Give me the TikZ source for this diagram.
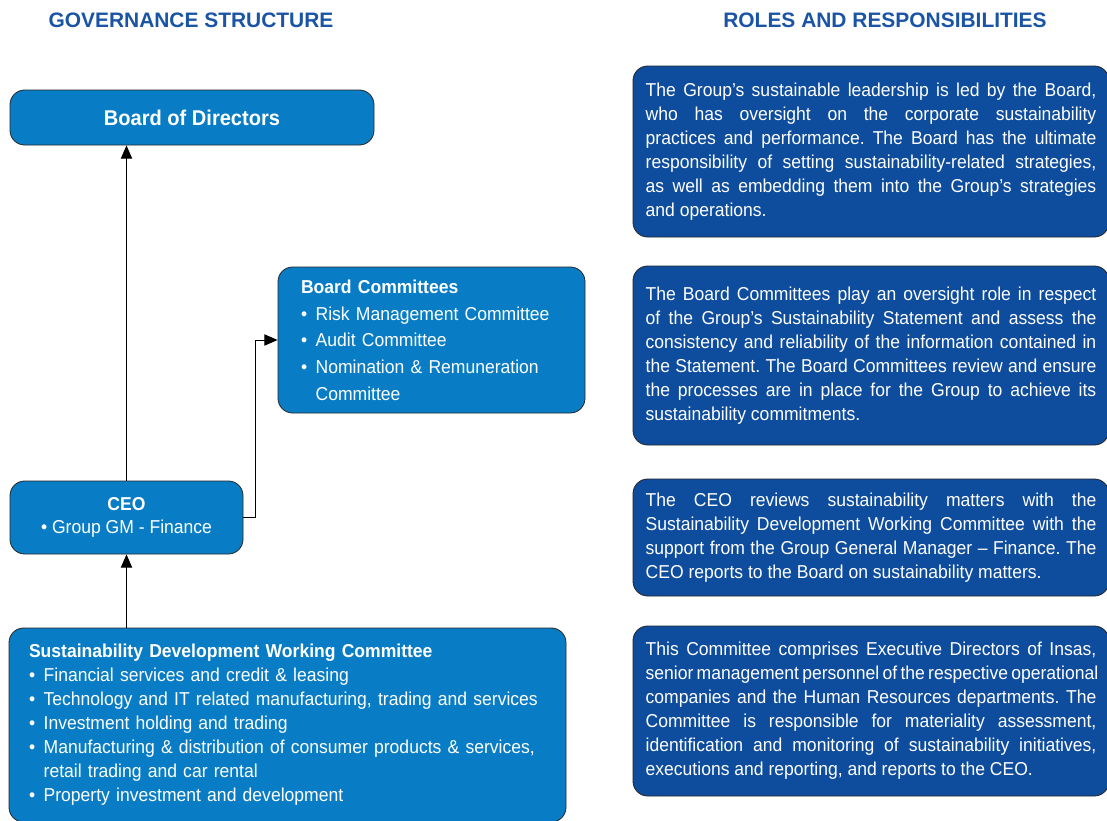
\documentclass[tikz,border=0pt]{standalone}
\usepackage{fontspec}
\setmainfont{Liberation Sans}[FakeStretch=0.94]
\newfontfamily\headfont{Liberation Sans}
\usetikzlibrary{arrows.meta}

\definecolor{orgblue}{RGB}{8,125,197}
\definecolor{roleblue}{RGB}{14,76,158}
\definecolor{headblue}{RGB}{26,84,164}

% bullet line with hanging indent
\newcommand{\bitem}[1]{\par\hangindent=11pt\hangafter=1\makebox[11pt][l]{\textbullet}#1}

\hbadness=10000
\hfuzz=20pt
\hyphenpenalty=10000
\frenchspacing
\tikzset{orgbox/.style={
    % The shape:
    rectangle, rounded corners=11pt,
    % The border:
    draw=black!85, line width=0.6pt,
    % The filling:
    fill=orgblue,
    % Font
    text=white, inner sep=0pt,
    font=\fontsize{14}{18}\selectfont
    },
    rolebox/.style={
    rectangle, rounded corners=11pt,
    draw=black!85, line width=0.6pt,
    fill=roleblue,
    text=white, inner sep=0pt,
    minimum width=357pt,
    text width=338pt, align=justify,
    font=\fontsize{14}{18}\selectfont
    },
    heading/.style={
    font=\headfont\fontsize{15.7}{18}\selectfont\bfseries,
    text=headblue
    },
    reports/.style={
    line width=0.75pt,
    -{Triangle[length=10pt,width=8.5pt]}
    },
}

\begin{document}
\begin{tikzpicture}[x=0.75pt,y=-0.75pt]
  \useasboundingbox (0,0) rectangle (1107,821);

  \node (govhead)  [heading] at (191,20)  {GOVERNANCE STRUCTURE};
  \node (rolehead) [heading] at (885,20)  {ROLES AND RESPONSIBILITIES};

  % left column: the structure
  \node (board) [orgbox,minimum width=273pt,minimum height=41.25pt,
         font=\fontsize{16}{18}\selectfont\bfseries] at (192,117.5) {Board of Directors};
  \node (committees) [orgbox,minimum width=230.25pt,minimum height=109.5pt,
         text width=195.75pt,align=left,
         font=\fontsize{14}{20}\selectfont] at (431.5,340)
    {\textbf{Board Committees}
     \bitem{Risk Management Committee}
     \bitem{Audit Committee}
     \bitem{Nomination \& Remuneration\newline Committee}\par};
  \node (ceo) [orgbox,minimum width=174.75pt,minimum height=54.75pt,align=center,
         font=\fontsize{14}{17.25}\selectfont] at (126.5,517.5)
    {\textbf{CEO}\\\textbullet\ Group GM - Finance};
  \node (sdwc) [orgbox,minimum width=417.75pt,minimum height=145.5pt,
         text width=387.75pt,align=left] at (287.5,725)
    {\textbf{Sustainability Development Working Committee}
     \bitem{Financial services and credit \& leasing}
     \bitem{Technology and IT related manufacturing, trading and services}
     \bitem{Investment holding and trading}
     \bitem{Manufacturing \& distribution of consumer products \& services,\newline retail trading and car rental}
     \bitem{Property investment and development}\par};

  \draw[reports] (ceo.south |- sdwc.north) -- (ceo.south);
  \draw[reports] (ceo.north) -- (ceo.north |- board.south);
  \draw[reports] (ceo.east) -- ++(12,0) |- (committees.west);

  % right column: the roles
  \node (roleboard) [rolebox,minimum height=128.25pt] at (871,151.5)
    {The Group’s sustainable leadership is led by the Board,\linebreak
     who has oversight on the corporate sustainability\linebreak
     practices and performance. The Board has the ultimate\linebreak
     responsibility of setting sustainability-related strategies,\linebreak
     as well as embedding them into the Group’s strategies\linebreak
     and operations.};
  \node (rolecommittees) [rolebox,minimum height=134.25pt] at (871,355.5)
    {The Board Committees play an oversight role in respect\linebreak
     of the Group’s Sustainability Statement and assess the\linebreak
     consistency and reliability of the information contained in\linebreak
     the Statement. The Board Committees review and ensure\linebreak
     the processes are in place for the Group to achieve its\linebreak
     sustainability commitments.};
  \node (roleceo) [rolebox,minimum height=87.75pt] at (871,537.5)
    {The CEO reviews sustainability matters with the\linebreak
     Sustainability Development Working Committee with the\linebreak
     support from the Group General Manager – Finance. The\linebreak
     CEO reports to the Board on sustainability matters.};
  \node (rolesdwc) [rolebox,minimum height=127.5pt] at (871,711)
    {This Committee comprises Executive Directors of Insas,\linebreak
     \makebox[\linewidth][s]{senior management personnel of the respective operational}\linebreak
     companies and the Human Resources departments. The\linebreak
     Committee is responsible for materiality assessment,\linebreak
     identification and monitoring of sustainability initiatives,\linebreak
     executions and reporting, and reports to the CEO.};
\end{tikzpicture}
\end{document}
